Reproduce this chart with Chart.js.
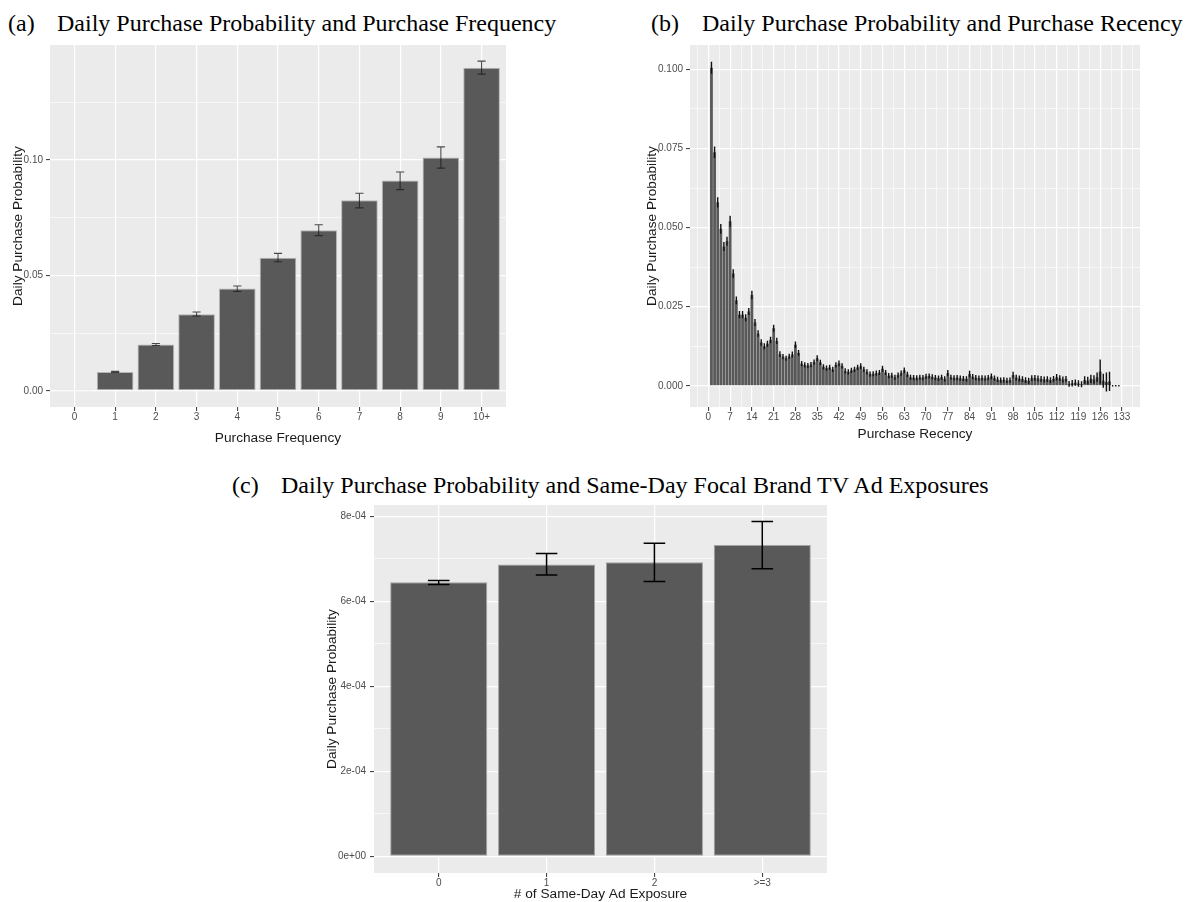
<!DOCTYPE html>
<html lang="en">
<head>
<meta charset="UTF-8" />
<title>Daily Purchase Probability</title>
<script src="https://cdn.jsdelivr.net/npm/chart.js"></script>
<style>
  body { margin: 0; background: #fff; width: 1189px; height: 902px; position: relative; overflow: hidden; }
  canvas { position: absolute; }
  .ttl { position: absolute; font-family: "Liberation Serif", "Times New Roman", serif; font-size: 24px; line-height: 24px; color: #000; white-space: nowrap; }
</style>
</head>
<body>
  <div class="ttl" style="left:8px;top:11px">(a)</div>
  <div class="ttl" style="left:57px;top:11px">Daily Purchase Probability and Purchase Frequency</div>
  <div class="ttl" style="left:651px;top:11px">(b)</div>
  <div class="ttl" style="left:702px;top:11px">Daily Purchase Probability and Purchase Recency</div>
  <div class="ttl" style="left:232px;top:473px">(c)</div>
  <div class="ttl" style="left:281px;top:473px">Daily Purchase Probability and Same-Day Focal Brand TV Ad Exposures</div>

  <canvas id="chartA" width="520" height="410" style="left:0;top:36px"></canvas>
  <canvas id="chartB" width="549" height="410" style="left:640px;top:36px"></canvas>
  <canvas id="chartC" width="560" height="407" style="left:300px;top:495px"></canvas>

<script>
// (a) purchase frequency
const freqLabels = ["0", "1", "2", "3", "4", "5", "6", "7", "8", "9", "10+"];
const freqProb = [0.0005, 0.0082, 0.0201, 0.0332, 0.0443, 0.0576, 0.0695, 0.0825, 0.0910, 0.1010, 0.1398];
const freqLow  = [0.0005, 0.0080, 0.0196, 0.0324, 0.0430, 0.0559, 0.0672, 0.0792, 0.0871, 0.0964, 0.1371];
const freqHigh = [0.0005, 0.0084, 0.0205, 0.0341, 0.0454, 0.0595, 0.0719, 0.0855, 0.0947, 0.1056, 0.1427];
const freqYTicks = [0, 0.05, 0.10];
const freqYLabels = ["0.00", "0.05", "0.10"];
const freqYMinor = [0.025, 0.075, 0.125];

// (b) purchase recency, days 1..132
const recencyProb = [
  0.1005, 0.0738, 0.0580, 0.0496, 0.0440, 0.0457, 0.0520, 0.0355, 0.0270, 0.0225,
  0.0225, 0.0215, 0.0235, 0.0287, 0.0200, 0.0165, 0.0137, 0.0125, 0.0133, 0.0145,
  0.0182, 0.0142, 0.0100, 0.0092, 0.0087, 0.0093, 0.0099, 0.0130, 0.0104, 0.0070,
  0.0066, 0.0064, 0.0067, 0.0075, 0.0087, 0.0074, 0.0060, 0.0056, 0.0058, 0.0052,
  0.0066, 0.0071, 0.0063, 0.0047, 0.0044, 0.0049, 0.0052, 0.0058, 0.0062, 0.0052,
  0.0044, 0.0037, 0.0038, 0.0040, 0.0042, 0.0054, 0.0042, 0.0032, 0.0033, 0.0027,
  0.0034, 0.0040, 0.0049, 0.0036, 0.0027, 0.0026, 0.0025, 0.0027, 0.0026, 0.0030,
  0.0031, 0.0028, 0.0026, 0.0024, 0.0027, 0.0022, 0.0040, 0.0027, 0.0025, 0.0026,
  0.0024, 0.0023, 0.0022, 0.0037, 0.0029, 0.0026, 0.0024, 0.0025, 0.0024, 0.0026,
  0.0030, 0.0024, 0.0020, 0.0018, 0.0019, 0.0017, 0.0018, 0.0034, 0.0026, 0.0023,
  0.0021, 0.0018, 0.0016, 0.0024, 0.0025, 0.0023, 0.0022, 0.0020, 0.0021, 0.0018,
  0.0022, 0.0027, 0.0024, 0.0020, 0.0022, 0.0006, 0.0008, 0.0010, 0.0007, 0.0005,
  0.0018, 0.0016, 0.0022, 0.0020, 0.0027, 0.0045, 0.0016, 0.0012, 0.0014, 0,
  0, 0
];
const recencyErr = [
  0.0017, 0.0016, 0.0014, 0.0013, 0.0012, 0.0012, 0.0015, 0.0011, 0.0010, 0.0009,
  0.0009, 0.0009, 0.0009, 0.0011, 0.0009, 0.0008, 0.0008, 0.0007, 0.0007, 0.0008,
  0.0009, 0.0008, 0.0007, 0.0006, 0.0006, 0.0006, 0.0007, 0.0008, 0.0007, 0.0006,
  0.0006, 0.0006, 0.0006, 0.0006, 0.0007, 0.0006, 0.0006, 0.0006, 0.0006, 0.0006,
  0.0006, 0.0007, 0.0006, 0.0006, 0.0006, 0.0006, 0.0006, 0.0006, 0.0007, 0.0006,
  0.0006, 0.0006, 0.0006, 0.0006, 0.0006, 0.0007, 0.0006, 0.0006, 0.0006, 0.0006,
  0.0006, 0.0006, 0.0007, 0.0006, 0.0006, 0.0006, 0.0006, 0.0006, 0.0006, 0.0006,
  0.0006, 0.0006, 0.0006, 0.0006, 0.0006, 0.0006, 0.0008, 0.0006, 0.0006, 0.0006,
  0.0006, 0.0006, 0.0006, 0.0008, 0.0006, 0.0006, 0.0006, 0.0006, 0.0006, 0.0006,
  0.0007, 0.0006, 0.0006, 0.0006, 0.0006, 0.0006, 0.0006, 0.0008, 0.0007, 0.0007,
  0.0007, 0.0007, 0.0007, 0.0007, 0.0007, 0.0007, 0.0007, 0.0007, 0.0007, 0.0007,
  0.0007, 0.0008, 0.0007, 0.0007, 0.0007, 0.0007, 0.0008, 0.0008, 0.0008, 0.0007,
  0.0010, 0.0010, 0.0011, 0.0011, 0.0013, 0.0036, 0.0020, 0.0028, 0.0028, 0,
  0, 0
];
const recencyXTicks = [0, 7, 14, 21, 28, 35, 42, 49, 56, 63, 70, 77, 84, 91, 98, 105, 112, 119, 126, 133];
const recencyYTicks = [0, 0.025, 0.05, 0.075, 0.1];
const recencyYLabels = ["0.000", "0.025", "0.050", "0.075", "0.100"];
const recencyYMinor = [0.0125, 0.0375, 0.0625, 0.0875];

// (c) same-day ad exposures
const adLabels = ["0", "1", "2", ">=3"];
const adProb = [6.45e-4, 6.87e-4, 6.92e-4, 7.33e-4];
const adLow  = [6.40e-4, 6.62e-4, 6.47e-4, 6.77e-4];
const adHigh = [6.49e-4, 7.13e-4, 7.37e-4, 7.88e-4];
const adYTicks = [0, 2e-4, 4e-4, 6e-4, 8e-4];
const adYLabels = ["0e+00", "2e-04", "4e-04", "6e-04", "8e-04"];
const adYMinor = [1e-4, 3e-4, 5e-4, 7e-4];

const SANS = '"Liberation Sans", Arial, sans-serif';
const tickFont = { family: SANS, size: 10 };
const titleFont = { family: SANS, size: 13.7 };

const panelBg = {
  id: "panelBg",
  beforeDraw(chart) {
    const { ctx, chartArea: a } = chart;
    ctx.save();
    ctx.fillStyle = "#EBEBEB";
    ctx.fillRect(a.left, a.top, a.right - a.left, a.bottom - a.top);
    ctx.restore();
  }
};

function errorBars(low, high, color, lineWidth, cap) {
  return {
    id: "errorBars",
    afterDatasetsDraw(chart) {
      const { ctx, scales: { x, y } } = chart;
      const unit = x.getPixelForValue(1) - x.getPixelForValue(0);
      const half = Math.max(cap * unit / 2, 0.7);
      ctx.save();
      ctx.strokeStyle = color;
      ctx.lineWidth = lineWidth;
      chart.getDatasetMeta(0).data.forEach((bar, i) => {
        if (low(i) === high(i) && low(i) > 0) return;
        const yl = y.getPixelForValue(low(i)), yh = y.getPixelForValue(high(i));
        ctx.beginPath();
        ctx.moveTo(bar.x - half, yh); ctx.lineTo(bar.x + half, yh);
        ctx.moveTo(bar.x, yh); ctx.lineTo(bar.x, yl);
        ctx.moveTo(bar.x - half, yl); ctx.lineTo(bar.x + half, yl);
        ctx.stroke();
      });
      ctx.restore();
    }
  };
}

const near = (list, v) => list.findIndex(m => Math.abs(m - v) < 1e-9);
const isMajor = (list, c) => !c.tick || near(list, c.tick.value) >= 0;

// ggplot-like axis: major + minor white grid, ticks only on majors
function axis(o) {
  return {
    type: "linear",
    min: o.min,
    max: o.max,
    offset: false,
    afterBuildTicks: s => { s.ticks = o.major.concat(o.minor).sort((p, q) => p - q).map(v => ({ value: v })); },
    afterFit: s => { if (o.width) s.width = o.width; if (o.height) s.height = o.height; },
    border: { display: false },
    grid: {
      offset: false,
      color: "#FFFFFF",
      lineWidth: c => isMajor(o.major, c) ? 1.2 : 0.6,
      tickColor: c => isMajor(o.major, c) ? "#333333" : "rgba(0,0,0,0)",
      tickLength: 4,
      tickWidth: 1
    },
    ticks: {
      autoSkip: false,
      maxRotation: 0,
      color: "#4D4D4D",
      font: tickFont,
      padding: o.pad,
      callback: v => { const k = near(o.major, v); return k >= 0 ? o.labels[k] : ""; }
    },
    title: { display: true, text: o.title, color: "#1A1A1A", font: titleFont, padding: o.titlePad }
  };
}

function barChart(id, data, bar, xAxis, yAxis, padding, plugin) {
  return new Chart(document.getElementById(id), {
    type: "bar",
    data: { datasets: [Object.assign({ data: data, backgroundColor: "#595959", barPercentage: 0.9, categoryPercentage: 1.0, borderSkipped: false }, bar)] },
    options: {
      responsive: false,
      animation: false,
      layout: { padding: padding },
      plugins: { legend: { display: false }, tooltip: { enabled: false } },
      scales: { x: xAxis, y: yAxis }
    },
    plugins: [panelBg, plugin]
  });
}

// (a)
barChart("chartA",
  freqProb.map((v, i) => ({ x: i, y: v })),
  { borderColor: "#B5B5B5", borderWidth: 1 },
  axis({ min: -0.6, max: freqLabels.length - 0.4, major: freqLabels.map((_, i) => i), minor: [], labels: freqLabels,
         height: 39, pad: 0, title: "Purchase Frequency", titlePad: { top: 0, bottom: 0 } }),
  axis({ min: -0.007, max: 0.1497, major: freqYTicks, minor: freqYMinor, labels: freqYLabels,
         width: 50, pad: 3, title: "Daily Purchase Probability", titlePad: { top: 10, bottom: 0 } }),
  { left: 0, top: 7, right: 14, bottom: 0 },
  errorBars(i => freqLow[i], i => freqHigh[i], "rgba(30,30,30,0.8)", 1.1, 0.2)
);

// (b)
barChart("chartB",
  recencyProb.map((v, i) => ({ x: i + 1, y: v })),
  { borderWidth: 0 },
  axis({ min: -5.9, max: 138.8, major: recencyXTicks, minor: [-3.5].concat(recencyXTicks.map(v => v + 3.5)),
         labels: recencyXTicks.map(String), height: 39, pad: 0, title: "Purchase Recency", titlePad: { top: 0, bottom: 4 } }),
  axis({ min: -0.0067, max: 0.1077, major: recencyYTicks, minor: recencyYMinor, labels: recencyYLabels,
         width: 50, pad: 3, title: "Daily Purchase Probability", titlePad: { top: 4, bottom: 0 } }),
  { left: 0, top: 7, right: 49, bottom: 0 },
  errorBars(i => recencyProb[i] - recencyErr[i], i => recencyProb[i] + recencyErr[i], "#111111", 1.4, 0.2)
);

// (c)
barChart("chartC",
  adProb.map((v, i) => ({ x: i, y: v })),
  { borderColor: "#A3A3A3", borderWidth: 1 },
  axis({ min: -0.6, max: adLabels.length - 0.4, major: adLabels.map((_, i) => i), minor: [], labels: adLabels,
         height: 29, pad: 0, title: "# of Same-Day Ad Exposure", titlePad: { top: 0, bottom: 0 } }),
  axis({ min: -0.394e-4, max: 8.27e-4, major: adYTicks, minor: adYMinor, labels: adYLabels,
         width: 74, pad: 4, title: "Daily Purchase Probability", titlePad: { top: 24, bottom: 0 } }),
  { left: 0, top: 8, right: 33, bottom: 0 },
  errorBars(i => adLow[i], i => adHigh[i], "#000000", 1.5, 0.2)
);
</script>
</body>
</html>
